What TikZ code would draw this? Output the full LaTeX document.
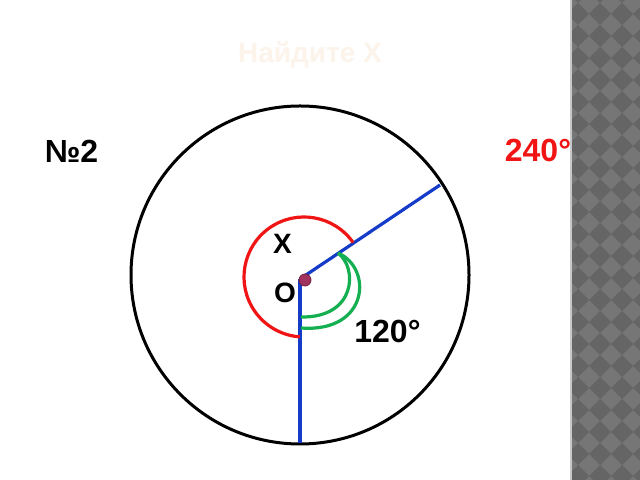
\documentclass[tikz,border=0pt]{standalone}
\usepackage{fontspec}
\setmainfont{Liberation Sans}
\definecolor{bluel}{RGB}{20,60,200}
\definecolor{redl}{RGB}{240,20,20}
\definecolor{greenl}{RGB}{20,175,80}
\definecolor{dotc}{RGB}{160,50,95}
\definecolor{dotb}{RGB}{120,30,60}
\definecolor{titlec}{RGB}{252,243,234}
\definecolor{stripL}{RGB}{118,118,118}
\definecolor{stripD}{RGB}{101,101,101}
\definecolor{stripB}{RGB}{200,200,200}
\tikzset{
  lbl/.style={inner sep=0pt, font=\fontsize{32bp}{38bp}\selectfont\bfseries},
  smalllbl/.style={inner sep=0pt, font=\fontsize{28bp}{34bp}\selectfont\bfseries},
  ray/.style={bluel, line width=3.2bp},
  arcred/.style={redl, line width=3.2bp},
  arcgreen/.style={greenl, line width=3.2bp},
}
\begin{document}
\begin{tikzpicture}[x=1bp,y=1bp]
\useasboundingbox (0,0) rectangle (640,480);
\fill[white] (0,0) rectangle (640,480);
% decorative strip
\begin{scope}
\clip (571,0) rectangle (640,480);
\fill[stripL] (571,0) rectangle (640,480);
\foreach \a in {-1,...,4}{
  \foreach \k in {-1,...,23}{
    \fill[stripD] ({578+22*\a},{477-22*\k}) -- ++(11,11) -- ++(-11,11) -- ++(-11,-11) -- cycle;
  }
}
\end{scope}
\fill[stripB] (570,0) rectangle (572,480);
% title
\node[smalllbl, text=titlec] (title) at (310,425) {Найдите Х};
% circle
\node[draw=black, line width=3bp, circle, minimum size=338bp, inner sep=0pt] (circ) at (300,205) {};
% points
\coordinate (O) at (300,201);
\coordinate (A) at (440,295);
\coordinate (B) at (300,37);
\draw[ray] (O) -- (A);
\draw[ray] (O) -- (B);
% red arc
\draw[arcred] (304,203) ++(35:60) arc[start angle=35, end angle=266, radius=60];
% green arcs
\coordinate (g0) at (338,227);
\coordinate (g1) at (301,163);
\coordinate (g2) at (301,152);
\draw[arcgreen] (g0) .. controls (358,212) and (356,162) .. (g1);
\draw[arcgreen] (g0) .. controls (373,212) and (369,147) .. (g2);
% dot
\node[circle, fill=dotc, draw=dotb, line width=0.8bp, minimum size=12bp, inner sep=0pt] (dot) at (305,200) {};
% labels
\node[lbl] (no) at (71.5,329) {№2};
\node[lbl, text=redl] (a240) at (538,329.5) {240°};
\node[lbl] (a120) at (387.5,148.5) {120°};
\node[smalllbl] (x) at (282.5,236) {X};
\node[smalllbl] (o) at (285,187.5) {O};
\end{tikzpicture}
\end{document}
